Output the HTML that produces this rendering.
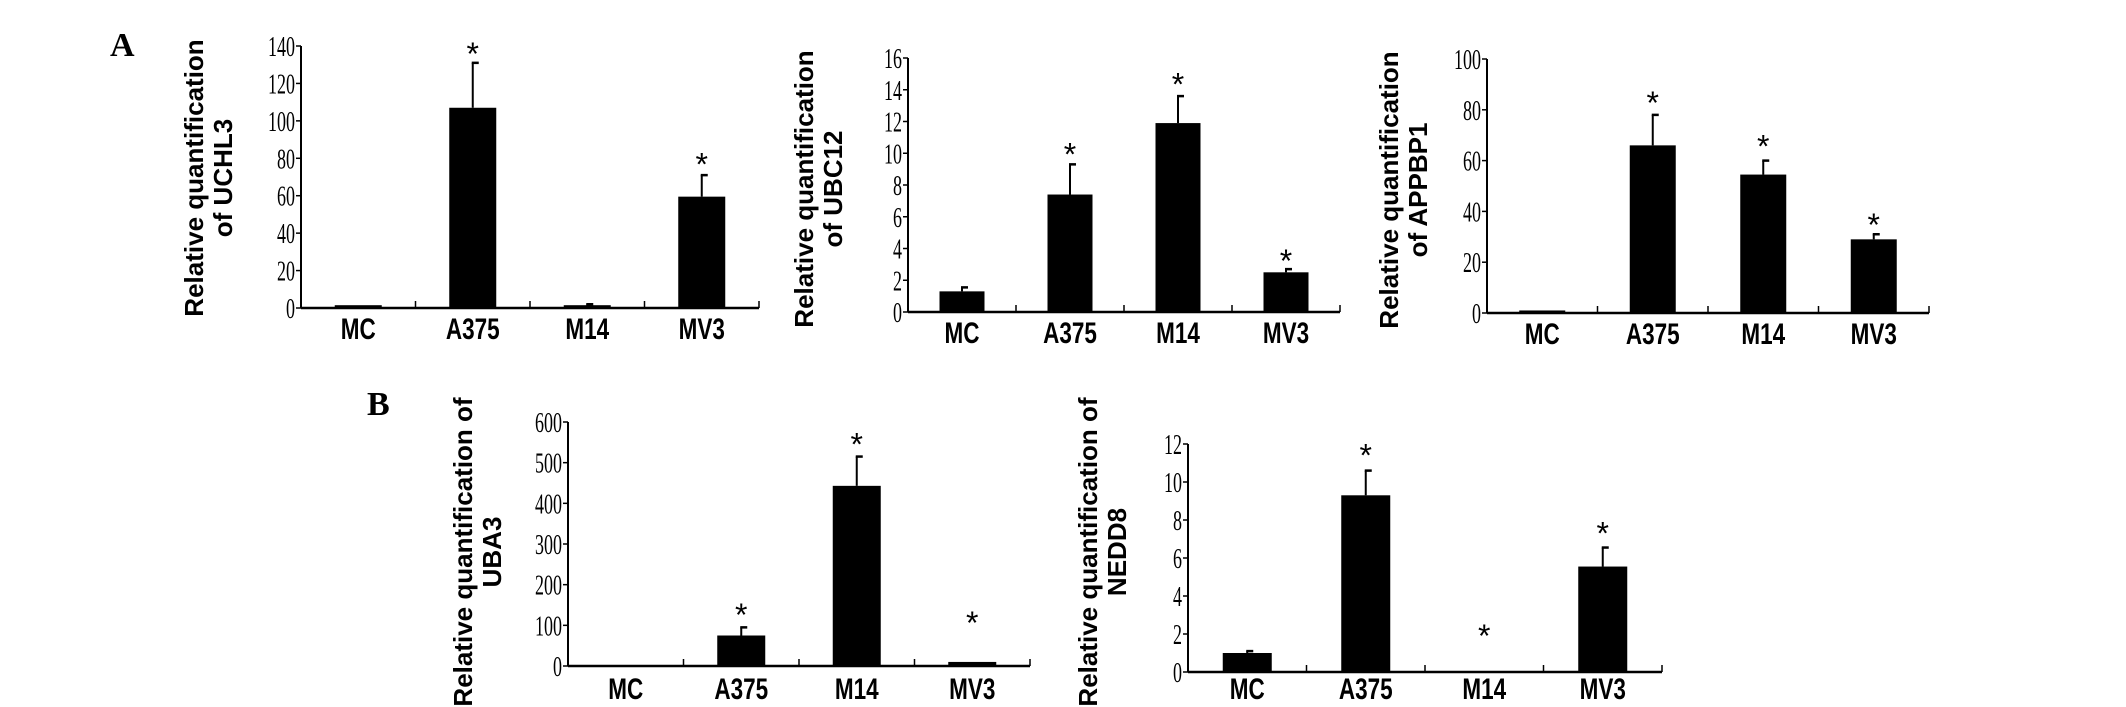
<!DOCTYPE html>
<html><head><meta charset="utf-8"><style>
html,body{margin:0;padding:0;background:#fff;}
svg{display:block;}
</style></head><body>
<svg id="fig" width="2126" height="707" viewBox="0 0 2126 707" xmlns="http://www.w3.org/2000/svg">
<text x="110" y="56" font-family="Liberation Serif" font-weight="bold" font-size="34">A</text>
<text x="367" y="415" font-family="Liberation Serif" font-weight="bold" font-size="34">B</text>
</svg>
<script>
const categories = ["MC","A375","M14","MV3"];
const uchl3Values = [1.5,107,1.5,59.5];
const uchl3Errors = [1.5,131,2,71];
const uchl3Stars = [null,139,null,80];
const uchl3Ticks = [0,20,40,60,80,100,120,140];
const ubc12Values = [1.3,7.4,11.9,2.5];
const ubc12Errors = [1.55,9.3,13.6,2.7];
const ubc12Stars = [null,10.3,14.7,3.6];
const ubc12Ticks = [0,2,4,6,8,10,12,14,16];
const appbp1Values = [1,66,54.5,29];
const appbp1Errors = [1,78,60,31];
const appbp1Stars = [null,85,68,37];
const appbp1Ticks = [0,20,40,60,80,100];
const uba3Values = [2,75,443,10];
const uba3Errors = [2,95,515,10];
const uba3Stars = [null,140,560,120];
const uba3Ticks = [0,100,200,300,400,500,600];
const nedd8Values = [1.0,9.3,0,5.55];
const nedd8Errors = [1.1,10.6,0,6.55];
const nedd8Stars = [null,11.7,2.2,7.6];
const nedd8Ticks = [0,2,4,6,8,10,12];

const NS="http://www.w3.org/2000/svg";
const svg=document.getElementById('fig');
function mk(tag,attrs,parent){const e=document.createElementNS(NS,tag);for(const k in attrs)e.setAttribute(k,attrs[k]);(parent||svg).appendChild(e);return e;}

function chart(cfg,vals,errs,stars,ticks){
  const g=mk('g',{});
  
  
  const max=ticks[ticks.length-1];
  const y=v=>cfg.y0-(v/max)*(cfg.y0-cfg.yTop);
  const step=(cfg.xEnd-cfg.x0)/categories.length;
  const xc=i=>cfg.x0+step*(i+0.5);
  const ya=mk('line',{x1:cfg.x0,y1:cfg.yTop,x2:cfg.x0,y2:cfg.y0,stroke:'#000','stroke-width':2},g);
  
  
  const xa=mk('line',{x1:cfg.x0,y1:cfg.y0,x2:cfg.xEnd,y2:cfg.y0,stroke:'#000','stroke-width':2.5},g);
  
  
  for(let i=1;i<=categories.length;i++){
    mk('line',{x1:cfg.x0+step*i,y1:cfg.y0,x2:cfg.x0+step*i,y2:cfg.y0-7,stroke:'#000','stroke-width':1.5},g);
  }
  ticks.forEach(t=>{
    mk('line',{x1:cfg.x0-5,y1:y(t),x2:cfg.x0,y2:y(t),stroke:'#000','stroke-width':1.5},g);
    const tx=mk('text',{transform:`translate(${cfg.x0-6},${y(t)+10}) scale(0.62,1)`,'text-anchor':'end','font-family':'Liberation Serif','font-size':29},g);
    
    
    tx.textContent=t;
  });
  categories.forEach((c,i)=>{
    const bw=cfg.bw;
    const top=y(vals[i]);
    const r=mk('rect',{x:xc(i)-bw/2,y:top,width:bw,height:Math.max(cfg.y0-top,0),fill:'#000'},g);
    
    
    if(errs[i]>vals[i]){
      mk('line',{x1:xc(i),y1:y(errs[i]),x2:xc(i),y2:top,stroke:'#000','stroke-width':2},g);
      mk('line',{x1:xc(i)-1,y1:y(errs[i]),x2:xc(i)+6,y2:y(errs[i]),stroke:'#000','stroke-width':2.5},g);
    }
    if(stars[i]!==null){
      const s=mk('text',{x:xc(i),y:y(stars[i])+17,'text-anchor':'middle','font-family':'Liberation Sans','font-size':32},g);
      
      
      s.textContent='*';
    }
    const l=mk('text',{transform:`translate(${xc(i)},${cfg.labY+2}) scale(0.75,1)`,'text-anchor':'middle','font-family':'Liberation Sans','font-weight':'bold','font-size':30},g);
    
    
    l.textContent=c;
  });
  const tt=mk('text',{transform:`translate(${cfg.tx-3},${cfg.ty}) rotate(-90)`,'text-anchor':'middle','font-family':'Liberation Sans','font-weight':'bold','font-size':26},g);
  
  
  cfg.title.forEach((line,k)=>{
    const ts=mk('tspan',{x:0,dy:k===0?0:29},tt);
    ts.textContent=line;
  });
}

chart({name:'chart-uchl3',x0:301,xEnd:759,y0:308,yTop:46,bw:47,labY:337,tx:206,ty:178,title:['Relative quantification','of UCHL3']},uchl3Values,uchl3Errors,uchl3Stars,uchl3Ticks);
chart({name:'chart-ubc12',x0:908,xEnd:1340,y0:312,yTop:58,bw:45,labY:341,tx:816,ty:189,title:['Relative quantification','of UBC12']},ubc12Values,ubc12Errors,ubc12Stars,ubc12Ticks);
chart({name:'chart-appbp1',x0:1487,xEnd:1929,y0:313,yTop:59,bw:46,labY:342,tx:1401,ty:190,title:['Relative quantification','of APPBP1']},appbp1Values,appbp1Errors,appbp1Stars,appbp1Ticks);
chart({name:'chart-uba3',x0:568,xEnd:1030,y0:666,yTop:422,bw:48,labY:697,tx:475,ty:552,title:['Relative quantification of','UBA3']},uba3Values,uba3Errors,uba3Stars,uba3Ticks);
chart({name:'chart-nedd8',x0:1188,xEnd:1662,y0:672,yTop:444,bw:49,labY:697,tx:1100,ty:552,title:['Relative quantification of','NEDD8']},nedd8Values,nedd8Errors,nedd8Stars,nedd8Ticks);
</script>
</body></html>
